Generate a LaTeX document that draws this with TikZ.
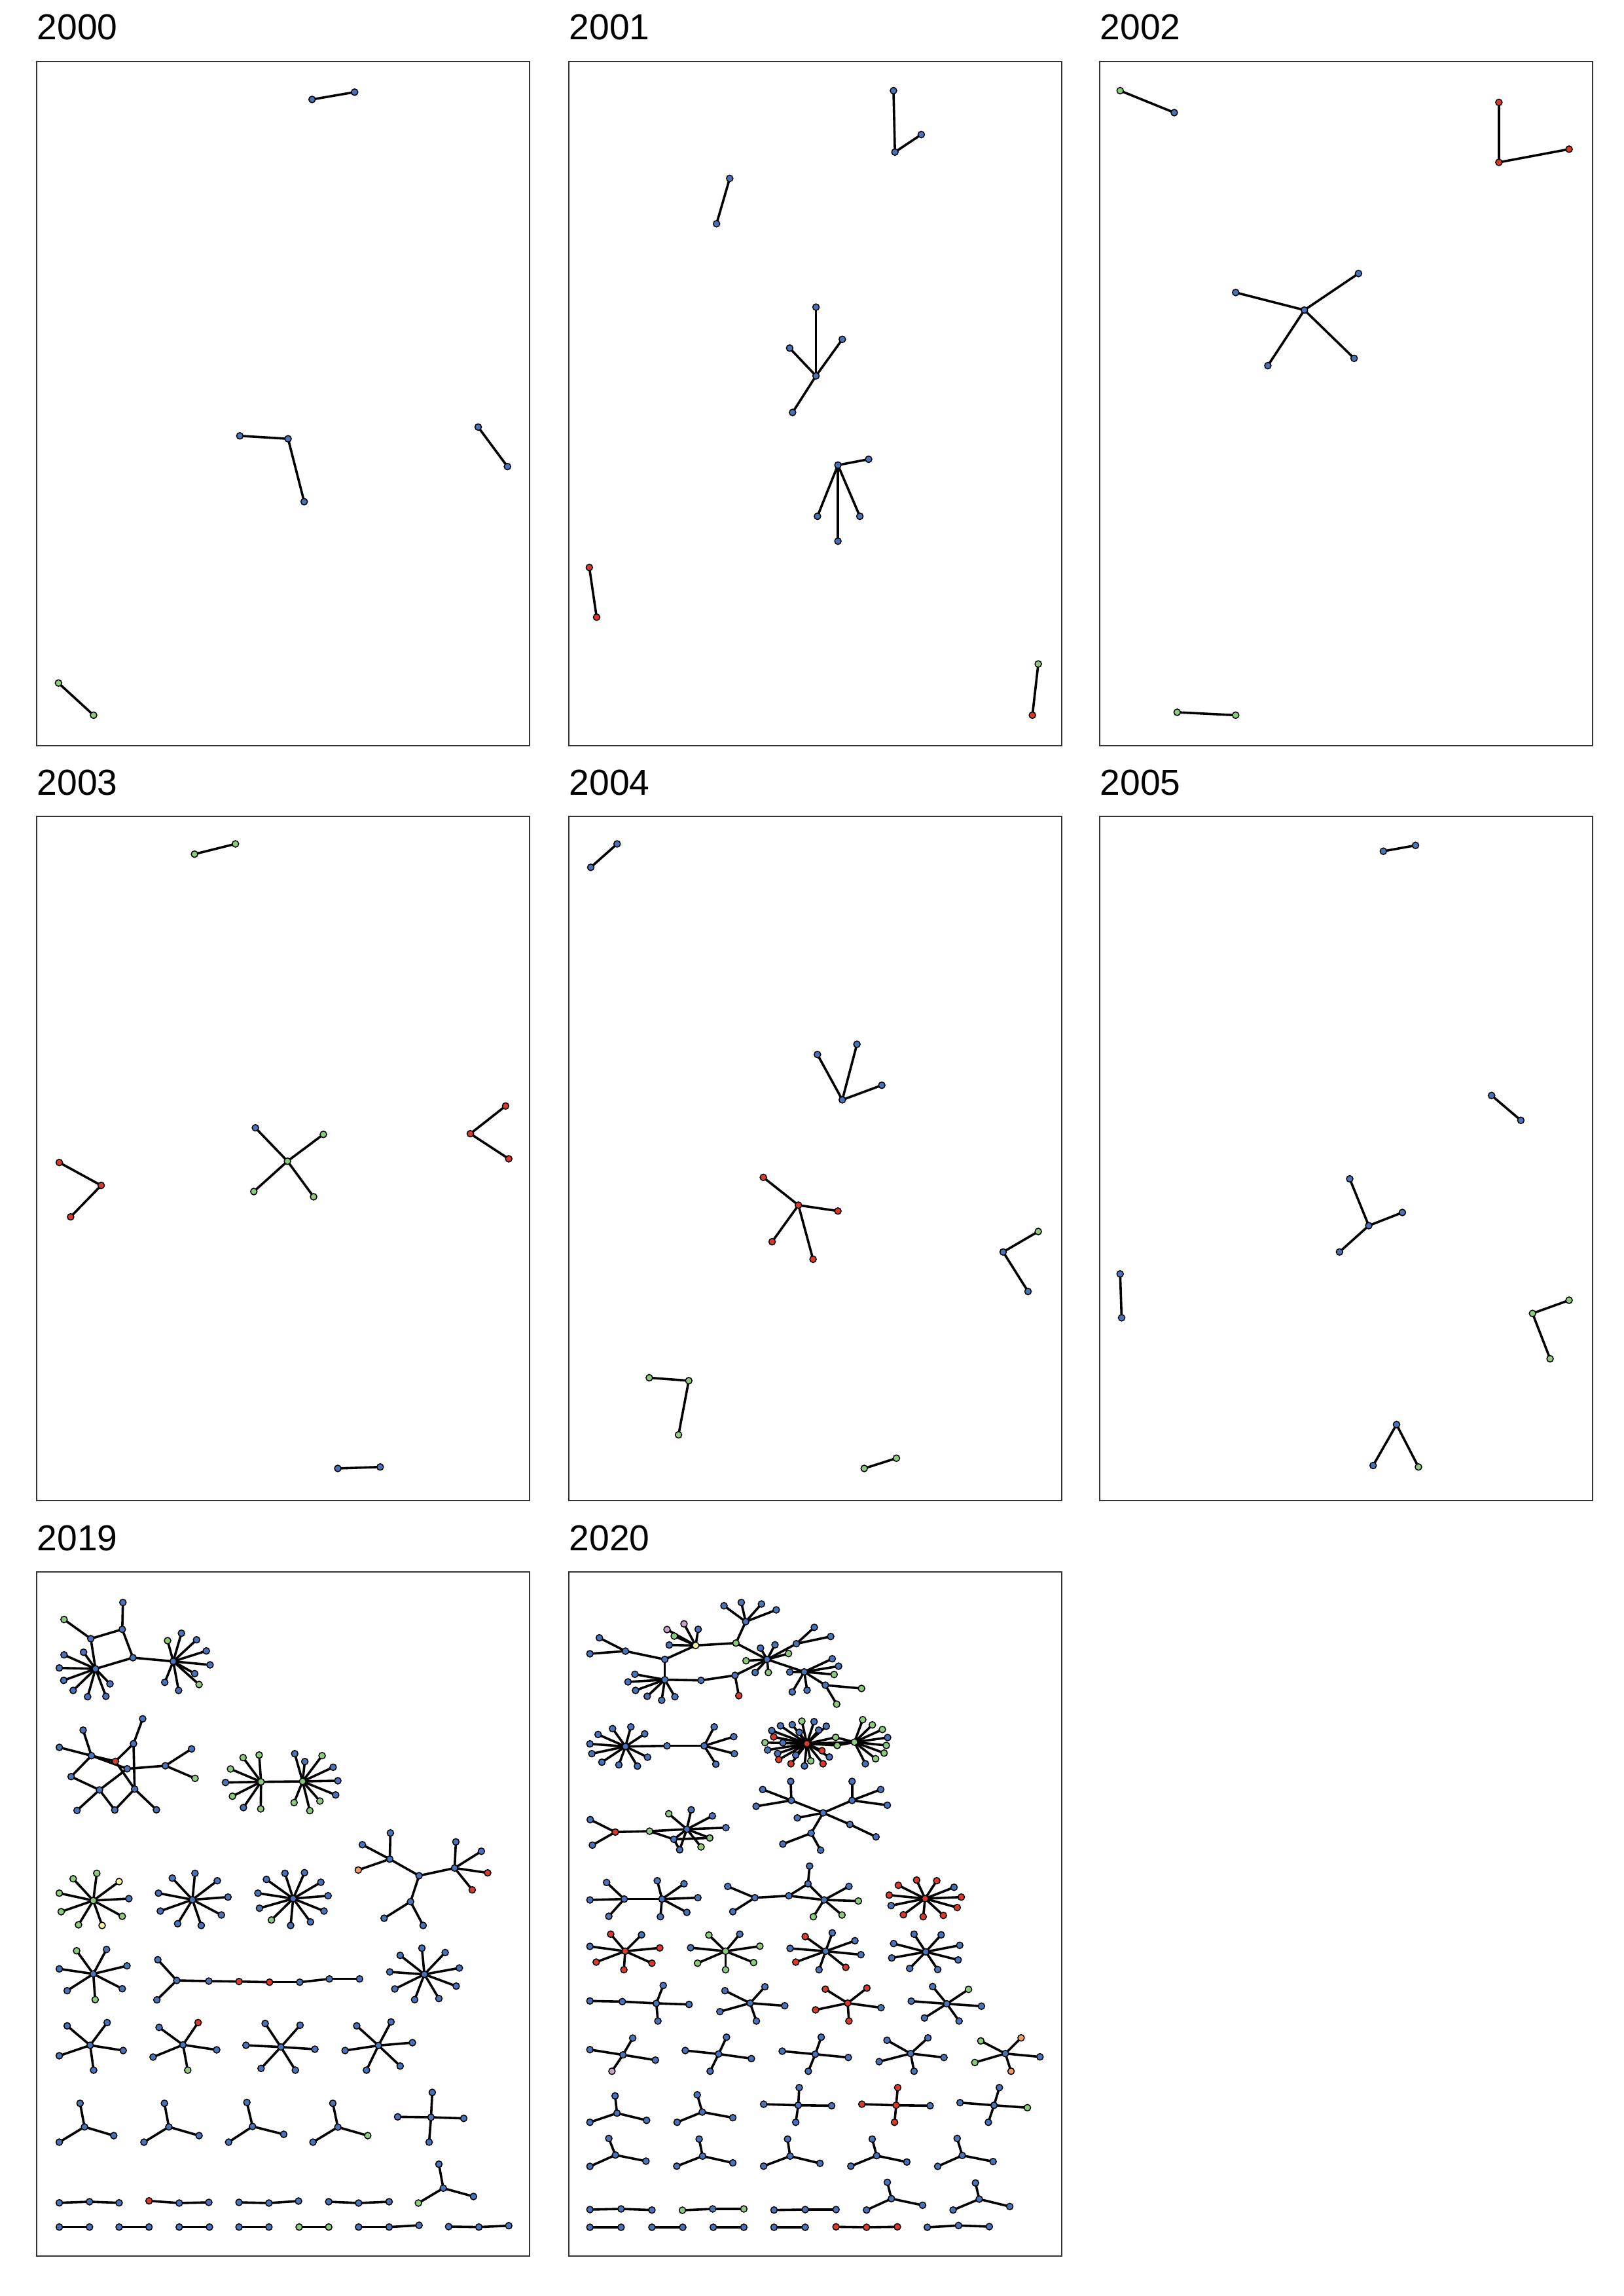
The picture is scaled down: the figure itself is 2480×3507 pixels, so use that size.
\documentclass[tikz,border=0pt]{standalone}
\usepackage{fontspec}
\usepackage{etoolbox}
\setmainfont{Liberation Sans}
\definecolor{nblue}{HTML}{4A72B6}
\definecolor{nred}{HTML}{D93A2B}
\definecolor{ngreen}{HTML}{8CCB7E}
\definecolor{nyellow}{HTML}{F6F49C}
\definecolor{norange}{HTML}{F49A62}
\definecolor{npink}{HTML}{C9A2CC}
\definecolor{frameg}{HTML}{333333}
\pgfdeclarelayer{bg}
\pgfdeclarelayer{edges}
\pgfsetlayers{bg,edges,main}
\newcounter{lc}
\newcommand\edgelist{}
\newcommand\nd[4]{\node[#1] (#2) at (#3,#4) {};}
\newcommand\ed[2]{\gappto\edgelist{\draw[edg] (#1.center) -- (#2.center);}}
\newcommand\lf[4]{\stepcounter{lc}\edef\lname{L\arabic{lc}}\node[#1] (\lname) at (#2,#3) {};\xappto\edgelist{\noexpand\draw[edg] (#4.center) -- (\lname.center);}}
\begin{document}
\begin{tikzpicture}[x=0.1mm,y=-0.1mm,
  dot/.style={circle,draw=black,line width=0.15mm,inner sep=0pt,minimum size=1.0mm},
  cb/.style={dot,fill=nblue}, cr/.style={dot,fill=nred}, cg/.style={dot,fill=ngreen},
  cy/.style={dot,fill=nyellow}, co/.style={dot,fill=norange}, cp/.style={dot,fill=npink},
  edg/.style={line width=0.36mm,black},
  frame/.style={draw=frameg,line width=0.22mm},
  yr/.style={anchor=base west,inner sep=0pt,font=\fontsize{15.7pt}{18pt}\selectfont}]
\useasboundingbox (0,0) rectangle (2480,3507);
\begin{pgfonlayer}{bg}\fill[white] (0,0) rectangle (2480,3507);\end{pgfonlayer}
% frames
\foreach \px in {56,869,1680}{\foreach \py in {94,1247}{\draw[frame] (\px,\py) rectangle ++(753,1045);}}
\foreach \px in {56,869}{\draw[frame] (\px,2401) rectangle ++(753,1045);}
% labels
\node[yr] (l2000) at (56,61) {2000};
\node[yr] (l2001) at (869,61) {2001};
\node[yr] (l2002) at (1680,61) {2002};
\node[yr] (l2003) at (56,1214) {2003};
\node[yr] (l2004) at (869,1214) {2004};
\node[yr] (l2005) at (1680,1214) {2005};
\node[yr] (l2019) at (56,2368) {2019};
\node[yr] (l2020) at (869,2368) {2020};
% ===== rows 1-2 (overview coordinates)
\begin{scope}[scale=2.234]
% 2000
\nd{cb}{a1}{213.4}{68} \lf{cb}{242.5}{63}{a1}
\nd{cb}{a4}{197}{300} \lf{cb}{164}{298}{a4} \lf{cb}{208}{343}{a4}
\nd{cb}{a6}{327}{292} \lf{cb}{347}{319}{a6}
\nd{cg}{a8}{40}{467} \lf{cg}{64}{489}{a8}
% 2001
\nd{cb}{b2}{612}{104} \lf{cb}{611}{62}{b2} \lf{cb}{630}{92}{b2}
\nd{cb}{b4}{499}{122} \lf{cb}{490}{153}{b4}
\nd{cb}{b6}{558}{257} \lf{cb}{558}{210}{b6} \lf{cb}{540}{238}{b6} \lf{cb}{576}{232}{b6} \lf{cb}{542}{282}{b6}
\nd{cb}{b7}{573}{318} \lf{cb}{594}{314}{b7} \lf{cb}{559}{353}{b7} \lf{cb}{573}{370}{b7} \lf{cb}{588}{353}{b7}
\nd{cr}{b8}{403}{388} \lf{cr}{408}{422}{b8}
\nd{cg}{b10}{710}{454} \lf{cr}{706}{489}{b10}
% 2002
\nd{cg}{c1}{766}{62} \lf{cb}{803}{77}{c1}
\nd{cr}{c4}{1025}{111} \lf{cr}{1025}{70}{c4} \lf{cr}{1073}{102}{c4}
\nd{cb}{c6}{892}{212} \lf{cb}{845}{200}{c6} \lf{cb}{929}{187}{c6} \lf{cb}{926}{245}{c6} \lf{cb}{867}{250}{c6}
\nd{cg}{c7}{805}{487} \lf{cg}{845}{489}{c7}
% 2003 (part)
\nd{cg}{d1}{133}{584} \lf{cg}{161}{577}{d1}
\nd{cb}{d2}{231}{1004} \lf{cb}{260}{1003}{d2}
% 2004
\nd{cb}{e1}{404}{593} \lf{cb}{422}{577}{e1}
\nd{cb}{e2}{576}{752} \lf{cb}{559}{721}{e2} \lf{cb}{586}{714}{e2} \lf{cb}{603}{742}{e2}
\nd{cr}{e3}{546}{824} \lf{cr}{522}{805}{e3} \lf{cr}{573}{828}{e3} \lf{cr}{528}{849}{e3} \lf{cr}{556}{861}{e3}
\nd{cb}{e4}{686}{856} \lf{cg}{710}{842}{e4} \lf{cb}{703}{883}{e4}
\nd{cg}{e5}{471}{944} \lf{cg}{444}{942}{e5} \lf{cg}{464}{981}{e5}
\nd{cg}{e6}{591}{1004} \lf{cg}{613}{997}{e6}
% 2005
\nd{cb}{f1}{946}{582} \lf{cb}{968}{578}{f1}
\nd{cb}{f2}{1020}{749} \lf{cb}{1040}{766}{f2}
\nd{cb}{f3}{936}{838} \lf{cb}{923}{806}{f3} \lf{cb}{959}{829}{f3} \lf{cb}{916}{856}{f3}
\nd{cb}{f4}{766}{871} \lf{cb}{767}{901}{f4}
\nd{cg}{f5}{1048}{898} \lf{cg}{1073}{889}{f5} \lf{cg}{1060}{929}{f5}
\nd{cb}{f6}{955}{974} \lf{cb}{939}{1002}{f6} \lf{cg}{970}{1003}{f6}
\end{scope}
% 2003 detail
\begin{scope}[shift={(56,1600)},xscale=0.4808,yscale=0.3333]
\nd{cr}{d3}{205}{632} \lf{cr}{72}{527}{d3} \lf{cr}{108}{776}{d3}
\nd{cg}{d4}{797}{521} \lf{cb}{695}{368}{d4} \lf{cg}{911}{398}{d4} \lf{cg}{690}{660}{d4} \lf{cg}{880}{684}{d4}
\nd{cr}{d5}{1378}{395} \lf{cr}{1490}{268}{d5} \lf{cr}{1500}{510}{d5}
\end{scope}
% ===== 2019
\begin{scope}[shift={(56,2400)},xscale=0.4808,yscale=0.3333]
\nd{cb}{s1}{274}{143} \nd{cg}{s2}{87}{221} \nd{cb}{s3}{272}{266} \nd{cb}{s4}{172}{309}
\nd{cb}{s5}{306}{396} \nd{cb}{s6}{187}{447} \nd{cb}{s7}{434}{413}
\ed{s3}{s1} \ed{s4}{s2} \ed{s4}{s3} \ed{s3}{s5} \ed{s5}{s6} \ed{s6}{s4} \ed{s5}{s7}
\lf{cb}{87}{383}{s6} \lf{cb}{149}{371}{s6} \lf{cb}{72}{443}{s6} \lf{cb}{86}{500}{s6}
\lf{cb}{116}{546}{s6} \lf{cb}{162}{575}{s6} \lf{cb}{220}{573}{s6} \lf{cb}{233}{516}{s6}
\lf{cg}{416}{318}{s7} \lf{cb}{460}{284}{s7} \lf{cb}{508}{314}{s7} \lf{cb}{539}{365}{s7}
\lf{cb}{551}{429}{s7} \lf{cb}{502}{469}{s7} \lf{cg}{516}{519}{s7} \lf{cb}{451}{546}{s7} \lf{cb}{407}{509}{s7}
\nd{cg}{s8}{713}{965} \nd{cg}{s9}{845}{963} \ed{s8}{s9}
\lf{cg}{656}{854}{s8} \lf{cg}{707}{842}{s8} \lf{cg}{616}{906}{s8} \lf{cb}{600}{968}{s8}
\lf{cg}{622}{1031}{s8} \lf{cb}{657}{1083}{s8} \lf{cg}{712}{1089}{s8}
\lf{cb}{820}{836}{s9} \lf{cb}{852}{872}{s9} \lf{cg}{907}{845}{s9} \lf{cb}{942}{898}{s9}
\lf{cb}{957}{960}{s9} \lf{cb}{950}{1025}{s9} \lf{cg}{900}{1053}{s9} \lf{cg}{818}{1060}{s9} \lf{cg}{868}{1097}{s9}
\end{scope}
\begin{scope}[shift={(60,2610)},scale=0.3333]
\nd{cb}{u1}{474}{46} \nd{cb}{u2}{201}{98} \nd{cb}{u3}{92}{177} \nd{cb}{u4}{432}{160}
\nd{cb}{u5}{239}{215} \nd{cr}{u6}{349}{241} \nd{cb}{u7}{403}{275} \nd{cb}{u8}{578}{261}
\nd{cb}{u9}{698}{184} \nd{cg}{u10}{714}{319} \nd{cb}{u11}{146}{311} \nd{cb}{u12}{276}{372}
\nd{cb}{u13}{437}{368} \nd{cb}{u14}{173}{466} \nd{cb}{u15}{346}{464} \nd{cb}{u16}{537}{463}
\ed{u5}{u2} \ed{u5}{u3} \ed{u5}{u6} \ed{u5}{u7} \ed{u5}{u11} \ed{u11}{u12} \ed{u12}{u14}
\ed{u12}{u15} \ed{u15}{u13} \ed{u13}{u16} \ed{u12}{u7} \ed{u7}{u8} \ed{u8}{u9} \ed{u8}{u10}
\ed{u4}{u1} \ed{u4}{u6} \ed{u4}{u13} \ed{u6}{u13}
\end{scope}
\begin{scope}[shift={(56,2750)},xscale=0.4808,yscale=0.3333]
\nd{cg}{s10}{180}{459}
\lf{cg}{191}{334}{s10} \lf{cg}{116}{359}{s10} \lf{cy}{262}{372}{s10} \lf{cg}{72}{425}{s10} \lf{cb}{293}{450}{s10}
\lf{cg}{78}{510}{s10} \lf{cg}{272}{531}{s10} \lf{cg}{133}{570}{s10} \lf{cy}{208}{573}{s10}
\nd{cb}{s11}{495}{455}
\lf{cb}{503}{334}{s11} \lf{cb}{431}{356}{s11} \lf{cb}{574}{368}{s11} \lf{cb}{387}{425}{s11} \lf{cb}{608}{443}{s11}
\lf{cb}{393}{507}{s11} \lf{cb}{587}{525}{s11} \lf{cb}{448}{565}{s11} \lf{cb}{523}{573}{s11}
\nd{cb}{s12}{815}{450}
\lf{cb}{789}{334}{s12} \lf{cb}{851}{331}{s12} \lf{cb}{730}{362}{s12} \lf{cb}{903}{375}{s12} \lf{cb}{703}{425}{s12}
\lf{cb}{926}{437}{s12} \lf{cb}{708}{494}{s12} \lf{cb}{913}{507}{s12} \lf{cg}{746}{548}{s12} \lf{cb}{807}{573}{s12} \lf{cb}{870}{557}{s12}
\nd{cb}{s13}{1122}{269} \nd{cb}{s14}{1215}{345} \nd{cb}{s15}{1328}{310} \nd{cb}{s16}{1188}{464}
\ed{s13}{s14} \ed{s14}{s15} \ed{s14}{s16}
\lf{cb}{1124}{149}{s13} \lf{cb}{1035}{203}{s13} \lf{co}{1022}{319}{s13}
\lf{cb}{1332}{190}{s15} \lf{cb}{1413}{233}{s15} \lf{cr}{1433}{332}{s15} \lf{cr}{1384}{410}{s15}
\lf{cb}{1104}{540}{s16} \lf{cb}{1228}{573}{s16}
\nd{cb}{s17}{180}{795}
\lf{cg}{127}{689}{s17} \lf{cb}{222}{683}{s17} \lf{cb}{72}{772}{s17} \lf{cb}{287}{758}{s17}
\lf{cb}{97}{872}{s17} \lf{cb}{272}{863}{s17} \lf{cg}{186}{913}{s17}
\nd{cb}{s18}{445}{825} \lf{cb}{385}{730}{s18} \lf{cb}{382}{914}{s18}
\nd{cb}{s19}{547}{828} \nd{cr}{s20}{643}{830} \nd{cr}{s21}{740}{833} \nd{cb}{s22}{836}{833}
\nd{cb}{s23}{930}{818} \nd{cb}{s24}{1026}{818}
\ed{s18}{s19} \ed{s19}{s20} \ed{s20}{s21} \ed{s21}{s22} \ed{s22}{s23} \ed{s23}{s24}
\nd{cb}{s25}{1232}{797}
\lf{cb}{1224}{677}{s25} \lf{cb}{1155}{710}{s25} \lf{cb}{1298}{697}{s25} \lf{cb}{1122}{786}{s25} \lf{cb}{1343}{768}{s25}
\lf{cb}{1138}{864}{s25} \lf{cb}{1333}{851}{s25} \lf{cb}{1201}{913}{s25} \lf{cb}{1278}{908}{s25}
\end{scope}
\begin{scope}[shift={(56,3100)},xscale=0.4808,yscale=0.3333]
\nd{cb}{s26}{170}{72} \lf{cb}{97}{-17}{s26} \lf{cb}{224}{-32}{s26} \lf{cb}{72}{120}{s26} \lf{cb}{275}{96}{s26} \lf{cb}{181}{186}{s26}
\nd{cb}{s27}{465}{70} \lf{cb}{389}{-10}{s27} \lf{cr}{513}{-32}{s27} \lf{cb}{370}{126}{s27} \lf{cb}{572}{93}{s27} \lf{cg}{480}{186}{s27}
\nd{cb}{s28}{776}{80} \lf{cb}{726}{-28}{s28} \lf{cb}{837}{-20}{s28} \lf{cb}{665}{72}{s28} \lf{cb}{884}{90}{s28} \lf{cb}{713}{178}{s28} \lf{cb}{822}{186}{s28}
\nd{cb}{s29}{1086}{73} \lf{cb}{1017}{-17}{s29} \lf{cb}{1126}{-35}{s29} \lf{cb}{980}{96}{s29} \lf{cb}{1194}{60}{s29} \lf{cb}{1048}{186}{s29} \lf{cb}{1155}{167}{s29}
\nd{cb}{s30}{152}{446} \lf{cb}{138}{338}{s30} \lf{cb}{72}{516}{s30} \lf{cb}{245}{486}{s30}
\nd{cb}{s31}{420}{446} \lf{cb}{406}{338}{s31} \lf{cb}{341}{516}{s31} \lf{cb}{516}{486}{s31}
\nd{cb}{s32}{686}{444} \lf{cb}{668}{334}{s32} \lf{cb}{610}{516}{s32} \lf{cb}{785}{480}{s32}
\nd{cb}{s33}{957}{447} \lf{cb}{941}{338}{s33} \lf{cb}{878}{516}{s33} \lf{cg}{1052}{486}{s33}
\nd{cb}{s34}{1253}{402} \lf{cb}{1257}{288}{s34} \lf{cb}{1147}{400}{s34} \lf{cb}{1357}{407}{s34} \lf{cb}{1247}{516}{s34}
\nd{cb}{s35}{1292}{727} \lf{cb}{1278}{617}{s35} \lf{cg}{1213}{795}{s35} \lf{cb}{1388}{765}{s35}
\nd{cb}{s36}{168}{789} \lf{cb}{72}{794}{s36} \lf{cb}{262}{794}{s36}
\nd{cb}{s37}{453}{795} \lf{cr}{357}{785}{s37} \lf{cb}{547}{792}{s37}
\nd{cb}{s38}{738}{795} \lf{cb}{643}{792}{s38} \lf{cb}{832}{786}{s38}
\nd{cb}{s39}{1023}{795} \lf{cb}{928}{789}{s39} \lf{cb}{1120}{789}{s39}
\nd{cb}{s40}{72}{905} \lf{cb}{168}{905}{s40}
\nd{cb}{s41}{262}{905} \lf{cb}{357}{905}{s41}
\nd{cb}{s42}{453}{905} \lf{cb}{549}{905}{s42}
\nd{cb}{s43}{643}{905} \lf{cb}{738}{905}{s43}
\nd{cg}{s44}{834}{905} \lf{cg}{928}{905}{s44}
\nd{cb}{s45}{1120}{905} \lf{cb}{1023}{905}{s45} \lf{cb}{1215}{897}{s45}
\nd{cb}{s46}{1405}{905} \lf{cb}{1309}{903}{s46} \lf{cb}{1500}{899}{s46}
\end{scope}
% ===== 2020
\begin{scope}[shift={(869,2400)},xscale=0.4808,yscale=0.3333]
\nd{cb}{t1}{97}{305} \nd{cb}{t2}{67}{378} \nd{cb}{t3}{180}{366} \nd{cb}{t4}{305}{404}
\nd{cb}{t5}{305}{497} \nd{cy}{t6}{403}{340} \nd{cg}{t7}{531}{329} \nd{cb}{t8}{562}{231}
\nd{cb}{t9}{630}{404} \nd{cb}{t10}{723}{332} \nd{cb}{t11}{748}{461} \nd{cb}{t12}{815}{522}
\nd{cb}{t13}{528}{477} \nd{cb}{t14}{420}{500}
\ed{t3}{t1} \ed{t3}{t2} \ed{t3}{t4} \ed{t4}{t5} \ed{t4}{t6} \ed{t6}{t7} \ed{t7}{t8} \ed{t7}{t9}
\ed{t9}{t10} \ed{t9}{t11} \ed{t11}{t12} \ed{t9}{t13} \ed{t13}{t14} \ed{t14}{t5}
\lf{cp}{312}{267}{t6} \lf{cp}{366}{241}{t6} \lf{cb}{411}{266}{t6} \lf{cg}{335}{297}{t6} \lf{cb}{319}{338}{t6}
\lf{cb}{493}{158}{t8} \lf{cb}{548}{143}{t8} \lf{cb}{612}{150}{t8} \lf{cb}{659}{177}{t8}
\lf{cb}{609}{352}{t9} \lf{cb}{655}{337}{t9} \lf{cg}{563}{410}{t9} \lf{cb}{592}{464}{t9} \lf{cg}{634}{464}{t9} \lf{cg}{698}{377}{t9}
\lf{cb}{780}{257}{t10} \lf{cb}{832}{299}{t10}
\lf{cb}{837}{401}{t11} \lf{cb}{857}{435}{t11} \lf{cg}{843}{473}{t11} \lf{cb}{710}{553}{t11} \lf{cb}{757}{545}{t11} \lf{cb}{702}{462}{t11}
\lf{cg}{930}{537}{t12} \lf{cg}{851}{609}{t12}
\lf{cr}{540}{570}{t13}
\lf{cb}{210}{472}{t5} \lf{cb}{188}{507}{t5} \lf{cb}{212}{546}{t5} \lf{cb}{249}{573}{t5} \lf{cb}{295}{591}{t5} \lf{cb}{337}{575}{t5}
\nd{cb}{t15}{180}{803} \nd{cb}{t16}{312}{800} \nd{cb}{t17}{430}{800} \ed{t15}{t16} \ed{t16}{t17}
\lf{cb}{139}{721}{t15} \lf{cb}{197}{713}{t15} \lf{cb}{93}{748}{t15} \lf{cb}{241}{745}{t15} \lf{cb}{67}{791}{t15}
\lf{cb}{73}{836}{t15} \lf{cb}{250}{852}{t15} \lf{cb}{105}{875}{t15} \lf{cb}{159}{887}{t15} \lf{cb}{218}{893}{t15}
\lf{cb}{462}{713}{t17} \lf{cb}{524}{758}{t17} \lf{cb}{526}{836}{t17} \lf{cb}{467}{884}{t17}
\nd{cb}{t18}{707}{1050} \lf{cb}{616}{1000}{t18} \lf{cb}{705}{963}{t18}
\nd{cb}{t19}{900}{1050} \lf{cb}{900}{963}{t19} \lf{cb}{991}{1000}{t19}
\end{scope}
\begin{scope}[shift={(1160,2615)},scale=0.3333]
\nd{cr}{t23}{218}{145} \nd{cg}{t24}{436}{138} \nd{cg}{t25}{350}{116} \nd{cg}{t26}{357}{153}
\ed{t23}{t24} \ed{t23}{t25} \ed{t25}{t24} \ed{t23}{t26} \ed{t26}{t24}
\lf{cb}{97}{63}{t23} \lf{cb}{151}{58}{t23} \lf{cg}{195}{42}{t23} \lf{cb}{251}{44}{t23} \lf{cb}{307}{65}{t23}
\lf{cb}{272}{83}{t23} \lf{cb}{183}{93}{t23} \lf{cb}{57}{85}{t23} \lf{cr}{66}{114}{t23} \lf{cb}{108}{141}{t23}
\lf{cg}{26}{140}{t23} \lf{cb}{38}{174}{t23} \lf{cb}{84}{190}{t23} \lf{cr}{89}{218}{t23} \lf{cr}{145}{237}{t23}
\lf{cb}{207}{247}{t23} \lf{cg}{236}{224}{t23} \lf{cb}{167}{197}{t23} \lf{cr}{287}{177}{t23} \lf{cb}{321}{206}{t23} \lf{cr}{292}{237}{t23}
\lf{cg}{474}{35}{t24} \lf{cg}{518}{59}{t24} \lf{cg}{564}{80}{t24} \lf{cb}{588}{117}{t24}
\lf{cg}{582}{153}{t24} \lf{cg}{572}{188}{t24} \lf{cg}{533}{214}{t24} \lf{cb}{486}{237}{t24}
\end{scope}
\begin{scope}[shift={(869,2750)},xscale=0.4808,yscale=0.3333]
\lf{cb}{595}{27}{t18} \lf{cb}{1012}{22}{t19}
\nd{cb}{t20}{808}{57} \nd{cb}{t21}{893}{110} \nd{cb}{t22}{770}{150}
\ed{t20}{t18} \ed{t20}{t19} \ed{t20}{t21} \ed{t20}{t22}
\lf{cb}{726}{80}{t20} \lf{cb}{976}{167}{t21} \lf{cb}{680}{200}{t22} \lf{cb}{800}{228}{t22}
\nd{cb}{t27}{176}{452} \nd{cb}{t28}{296}{452} \ed{t27}{t28}
\lf{cb}{120}{376}{t27} \lf{cb}{67}{456}{t27} \lf{cb}{127}{531}{t27}
\lf{cb}{281}{368}{t28} \lf{cb}{366}{382}{t28} \lf{cb}{410}{446}{t28} \lf{cb}{375}{513}{t28} \lf{cb}{291}{533}{t28}
\nd{cb}{t29}{591}{446} \nd{cb}{t30}{699}{437} \nd{cb}{t31}{760}{382} \nd{cb}{t32}{811}{456}
\ed{t29}{t30} \ed{t30}{t31} \ed{t31}{t32} \ed{t30}{t32}
\lf{cb}{505}{394}{t29} \lf{cb}{521}{510}{t29} \lf{cb}{765}{301}{t31}
\lf{cb}{890}{394}{t32} \lf{cg}{920}{461}{t32} \lf{cg}{868}{525}{t32} \lf{cg}{777}{533}{t32}
\nd{cr}{t33}{1132}{450}
\lf{cr}{1105}{365}{t33} \lf{cr}{1169}{368}{t33} \lf{cr}{1047}{389}{t33} \lf{cb}{1224}{398}{t33} \lf{cr}{1018}{434}{t33} \lf{cr}{1247}{443}{t33}
\lf{cb}{1024}{482}{t33} \lf{cr}{1234}{491}{t33} \lf{cr}{1063}{524}{t33} \lf{cr}{1126}{533}{t33} \lf{cr}{1190}{527}{t33}
\nd{cr}{t34}{179}{691}
\lf{cr}{133}{613}{t34} \lf{cb}{231}{616}{t34} \lf{cb}{67}{669}{t34} \lf{cr}{289}{676}{t34} \lf{cr}{87}{741}{t34} \lf{cr}{264}{746}{t34} \lf{cr}{175}{776}{t34}
\nd{cg}{t35}{498}{691}
\lf{cg}{445}{617}{t35} \lf{cb}{543}{613}{t35} \lf{cb}{387}{675}{t35} \lf{cg}{607}{668}{t35} \lf{cg}{409}{746}{t35} \lf{cg}{587}{743}{t35} \lf{cg}{498}{776}{t35}
\nd{cb}{t36}{816}{691}
\lf{cr}{751}{624}{t36} \lf{cb}{837}{607}{t36} \lf{cb}{909}{643}{t36} \lf{cb}{703}{678}{t36} \lf{cb}{928}{707}{t36} \lf{cr}{721}{741}{t36} \lf{cr}{880}{765}{t36} \lf{cb}{795}{776}{t36}
\nd{cb}{t37}{1134}{694}
\lf{cb}{1097}{613}{t37} \lf{cb}{1183}{616}{t37} \lf{cb}{1032}{656}{t37} \lf{cb}{1242}{664}{t37} \lf{cb}{1026}{722}{t37} \lf{cb}{1237}{731}{t37} \lf{cb}{1083}{770}{t37} \lf{cb}{1172}{775}{t37}
\nd{cb}{t38}{170}{922} \nd{cb}{t39}{278}{930} \ed{t38}{t39}
\lf{cb}{67}{919}{t38} \lf{cb}{300}{848}{t39} \lf{cb}{382}{935}{t39} \lf{cb}{283}{1011}{t39}
\nd{cb}{t40}{576}{929} \lf{cb}{496}{872}{t40} \lf{cb}{623}{854}{t40} \lf{cb}{686}{941}{t40} \lf{cb}{480}{968}{t40} \lf{cb}{596}{1011}{t40}
\nd{cr}{t41}{886}{929} \lf{cr}{815}{865}{t41} \lf{cr}{947}{860}{t41} \lf{cb}{992}{950}{t41} \lf{cr}{784}{960}{t41} \lf{cr}{890}{1011}{t41}
\nd{cb}{t42}{1201}{932} \lf{cb}{1156}{853}{t42} \lf{cg}{1270}{866}{t42} \lf{cb}{1088}{920}{t42} \lf{cb}{1311}{943}{t42} \lf{cb}{1130}{997}{t42} \lf{cb}{1240}{1011}{t42}
\end{scope}
\begin{scope}[shift={(895,2755)},scale=0.3333]
\nd{cr}{t43}{135}{130} \nd{cg}{t44}{292}{126} \nd{cb}{t45}{463}{117} \nd{cb}{t46}{403}{163}
\nd{cg}{t47}{568}{157} \nd{cg}{t48}{528}{198} \nd{cb}{t49}{430}{211}
\ed{t43}{t44} \ed{t44}{t45} \ed{t44}{t46} \ed{t45}{t46} \ed{t45}{t47} \ed{t46}{t47} \ed{t45}{t48} \ed{t45}{t49} \ed{t46}{t49}
\lf{cb}{20}{73}{t43} \lf{cb}{30}{190}{t43}
\lf{cg}{380}{46}{t45} \lf{cb}{483}{28}{t45} \lf{cb}{580}{56}{t45} \lf{cb}{642}{110}{t45}
\end{scope}
\begin{scope}[shift={(869,3100)},xscale=0.4808,yscale=0.3333]
\nd{cb}{t50}{172}{116} \lf{cb}{203}{39}{t50} \lf{cb}{67}{92}{t50} \lf{cb}{275}{140}{t50} \lf{cp}{137}{191}{t50}
\nd{cb}{t51}{476}{112} \lf{cb}{501}{35}{t51} \lf{cb}{370}{96}{t51} \lf{cb}{580}{133}{t51} \lf{cb}{449}{191}{t51}
\nd{cb}{t52}{783}{113} \lf{cb}{802}{35}{t52} \lf{cb}{678}{99}{t52} \lf{cb}{888}{128}{t52} \lf{cb}{761}{191}{t52}
\nd{cb}{t53}{1086}{110} \lf{cb}{1011}{49}{t53} \lf{cb}{1141}{38}{t53} \lf{cb}{986}{147}{t53} \lf{cb}{1192}{128}{t53} \lf{cb}{1097}{191}{t53}
\nd{cb}{t54}{1387}{110} \lf{cg}{1309}{52}{t54} \lf{co}{1437}{38}{t54} \lf{cg}{1290}{151}{t54} \lf{cb}{1497}{125}{t54} \lf{co}{1405}{191}{t54}
\nd{cb}{t55}{153}{383} \lf{cb}{147}{304}{t55} \lf{cb}{67}{425}{t55} \lf{cb}{247}{416}{t55}
\nd{cb}{t56}{424}{378} \lf{cb}{408}{299}{t56} \lf{cb}{344}{425}{t56} \lf{cb}{521}{404}{t56}
\nd{cb}{t57}{729}{347} \lf{cb}{732}{266}{t57} \lf{cb}{619}{342}{t57} \lf{cb}{835}{349}{t57} \lf{cb}{721}{425}{t57}
\nd{cr}{t58}{1040}{347} \lf{cr}{1045}{266}{t58} \lf{cr}{931}{342}{t58} \lf{cb}{1148}{349}{t58} \lf{cr}{1035}{425}{t58}
\nd{cb}{t59}{1351}{347} \lf{cb}{1368}{266}{t59} \lf{cb}{1243}{335}{t59} \lf{cg}{1457}{358}{t59} \lf{cb}{1333}{425}{t59}
\nd{cb}{t60}{148}{575} \lf{cb}{127}{499}{t60} \lf{cb}{67}{627}{t60} \lf{cb}{245}{603}{t60}
\nd{cb}{t61}{425}{580} \lf{cb}{414}{502}{t61} \lf{cb}{343}{626}{t61} \lf{cb}{521}{611}{t61}
\nd{cb}{t62}{703}{580} \lf{cb}{695}{502}{t62} \lf{cb}{619}{626}{t62} \lf{cb}{798}{613}{t62}
\nd{cb}{t63}{978}{578} \lf{cb}{964}{502}{t63} \lf{cb}{896}{626}{t63} \lf{cb}{1074}{607}{t63}
\nd{cb}{t64}{1250}{577} \lf{cb}{1234}{499}{t64} \lf{cb}{1172}{627}{t64} \lf{cb}{1348}{605}{t64}
\nd{cb}{t65}{166}{822} \lf{cb}{67}{825}{t65} \lf{cb}{264}{827}{t65}
\nd{cb}{t66}{457}{822} \lf{cg}{361}{828}{t66} \lf{cg}{556}{822}{t66}
\nd{cb}{t67}{751}{825} \lf{cb}{652}{827}{t67} \lf{cb}{849}{825}{t67}
\nd{cb}{t68}{1025}{775} \lf{cb}{1012}{700}{t68} \lf{cb}{946}{827}{t68} \lf{cb}{1124}{805}{t68}
\nd{cb}{t69}{1304}{777} \lf{cb}{1292}{703}{t69} \lf{cb}{1221}{827}{t69} \lf{cb}{1401}{811}{t69}
\nd{cb}{t70}{67}{906} \lf{cb}{166}{906}{t70}
\nd{cb}{t71}{264}{906} \lf{cb}{362}{906}{t71}
\nd{cb}{t72}{459}{906} \lf{cb}{556}{906}{t72}
\nd{cb}{t73}{652}{906} \lf{cb}{751}{906}{t73}
\nd{cr}{t74}{946}{906} \lf{cr}{849}{904}{t74} \lf{cr}{1044}{904}{t74}
\nd{cb}{t75}{1238}{898} \lf{cb}{1139}{906}{t75} \lf{cb}{1336}{903}{t75}
\end{scope}
% all connectors, beneath the nodes
\begin{pgfonlayer}{edges}
\edgelist
\end{pgfonlayer}
\end{tikzpicture}
\end{document}
